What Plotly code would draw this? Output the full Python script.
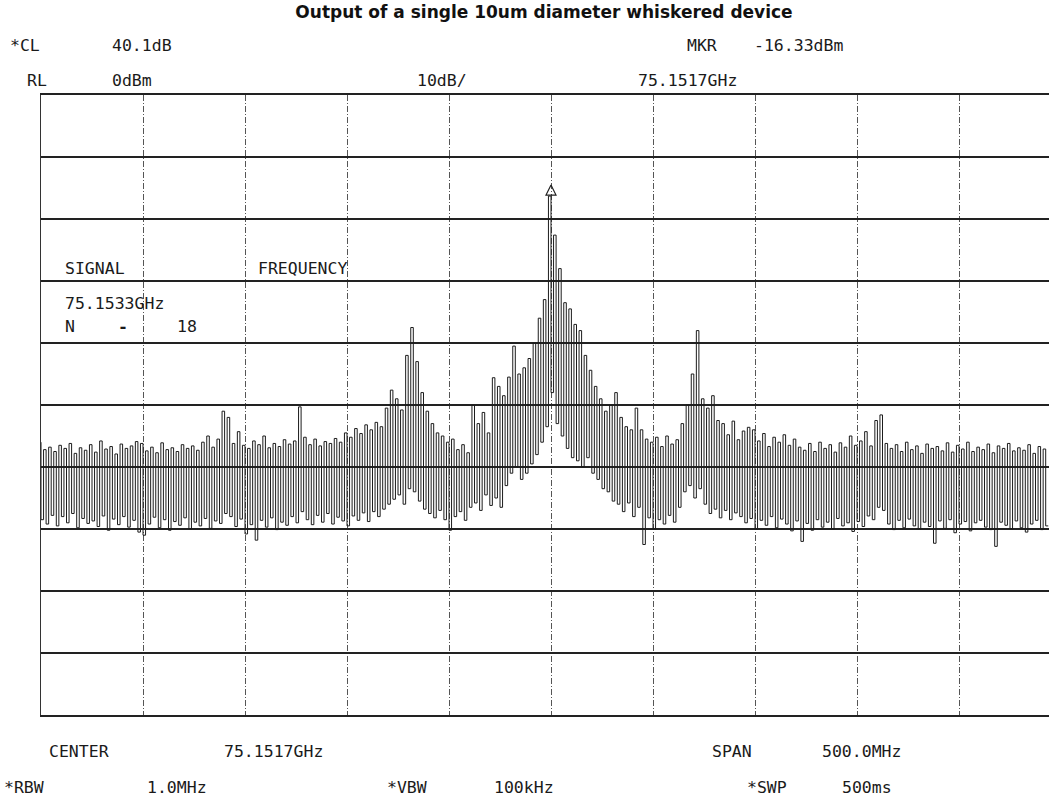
import plotly.graph_objects as go

# ---- instrument settings ----
center_ghz = 75.1517
span_mhz = 500.0
ref_level_dbm = 0.0
db_per_div = 10.0
n_div = 10
step_mhz = 2.5          # spacing of the trace strokes
marker_ghz = 75.1517
marker_dbm = -16.33

# ---- trace: upper and lower end of every stroke, in dBm ----
tops = [
    -56.0, -57.2, -56.8, -57.5, -56.5, -57.0, -56.2, -57.8, -56.9, -57.3,
    -56.4, -57.6, -55.8, -57.1, -56.7, -57.9, -56.3, -57.0, -56.6, -55.9,
    -56.2, -57.4, -56.8, -57.7, -56.1, -57.2, -56.9, -57.5, -56.4, -57.0,
    -56.6, -57.3, -56.0, -55.0, -56.8, -55.5, -51.0, -52.0, -56.2, -54.3,
    -56.5, -57.0, -55.8, -56.4, -55.0, -56.9, -56.2, -56.7, -55.6, -56.3,
    -55.8, -50.3, -55.2, -56.4, -55.5, -56.6, -55.9, -56.2, -55.4, -56.0,
    -54.5, -55.2, -53.8, -54.6, -53.2, -54.0, -52.8, -53.5, -50.5, -47.6,
    -49.0, -50.8, -42.0, -37.5, -43.0, -48.0, -51.0, -53.0, -54.5, -55.0,
    -56.0, -55.5, -57.2, -56.4, -57.7, -50.0, -53.0, -51.2, -54.5, -45.6,
    -47.0, -48.5, -45.5, -40.5, -45.0, -44.0, -42.5, -40.0, -36.0, -33.0,
    -16.3, -22.6, -28.0, -33.5, -34.5, -37.0, -38.0, -42.0, -44.4, -47.0,
    -49.0, -51.0, -50.0, -48.0, -52.0, -53.5, -54.0, -50.5, -54.0, -55.5,
    -56.0, -55.2, -56.7, -55.0, -56.3, -55.6, -53.0, -50.0, -45.0, -38.0,
    -49.0, -50.5, -48.5, -52.5, -53.0, -54.8, -52.6, -55.6, -54.2, -53.6,
    -54.0, -55.8, -54.6, -56.7, -55.2, -56.0, -54.8, -56.5, -55.5, -56.8,
    -57.3, -56.2, -57.5, -56.0, -57.0, -56.4, -57.6, -56.1, -56.8, -55.0,
    -56.5, -55.8, -54.3, -56.6, -52.5, -51.6, -56.2, -57.0, -56.4, -57.5,
    -56.0, -57.2, -56.6, -57.8, -56.3, -57.0, -56.7, -57.4, -56.1, -57.6,
    -56.5, -57.1, -56.0, -57.5, -56.8, -57.2, -56.3, -57.7, -56.6, -57.0,
    -56.2, -57.4, -56.9, -57.3, -56.4, -57.8, -56.7, -57.1,
]
bottoms = [
    -68.5, -69.2, -67.8, -69.5, -68.0, -69.0, -67.5, -69.8, -68.3, -69.1,
    -68.7, -69.6, -67.9, -70.2, -68.4, -69.3, -68.0, -69.7, -68.6, -70.5,
    -71.0, -69.2, -68.1, -69.8, -68.5, -70.2, -68.8, -69.4, -68.2, -70.0,
    -68.9, -69.5, -68.3, -69.9, -68.7, -69.1, -67.5, -68.0, -69.6, -68.4,
    -70.8, -69.3, -71.8, -68.6, -69.7, -68.2, -70.1, -68.9, -69.4, -68.0,
    -69.0, -67.2, -68.5, -69.3, -67.8, -68.9, -67.5, -69.2, -68.1, -68.7,
    -69.5, -67.9, -68.6, -67.4, -68.8, -67.2, -68.0, -66.8, -66.0, -65.2,
    -64.5, -66.0, -63.5, -64.0, -65.5, -66.8, -67.5, -68.2, -67.0, -68.5,
    -70.2, -68.0, -67.2, -68.6, -66.5, -65.8, -67.0, -64.5, -66.2, -65.0,
    -66.5, -63.0, -61.0, -60.0, -62.0, -61.0, -59.5, -58.0, -56.0, -53.5,
    -48.0, -53.0, -55.0, -57.0, -58.5, -59.0, -60.0, -58.5, -61.0, -62.0,
    -63.5, -64.0, -65.5, -66.0, -67.2, -65.8, -68.0, -66.5, -72.5, -68.2,
    -70.0, -68.5, -69.2, -67.8, -68.9, -66.5, -64.0, -63.0, -65.0, -63.5,
    -66.0, -67.5, -66.8, -68.2, -67.0, -68.5, -67.4, -68.0, -69.0, -68.3,
    -70.0, -68.6, -69.4, -68.0, -69.8, -68.4, -69.2, -70.3, -68.7, -72.0,
    -69.1, -70.2, -68.5, -69.7, -68.9, -70.0, -68.3, -69.5, -69.0, -70.4,
    -68.8, -69.6, -67.9, -68.5, -66.5, -67.0, -69.2, -70.1, -68.6, -69.8,
    -68.4, -69.5, -70.0, -68.9, -69.6, -72.3, -68.7, -69.9, -68.5, -70.6,
    -69.2, -68.8, -70.3, -69.0, -68.6, -69.7, -70.1, -72.8, -68.9, -69.4,
    -70.0, -68.7, -69.8, -70.5, -69.2, -68.6, -70.1, -69.5,
]

# ---- screen text ----
title_text = "Output of a single 10um diameter whiskered device"
screen_text = [
    ("*CL", 8, 45), ("40.1dB", 110, 45), ("MKR", 685, 45), ("-16.33dBm", 752, 45),
    ("RL", 25, 80), ("0dBm", 110, 80), ("10dB/", 415, 80), ("75.1517GHz", 636, 80),
    ("SIGNAL", 63, 268), ("FREQUENCY", 256, 268), ("75.1533GHz", 63, 303),
    ("N", 63, 326), ("<b>-</b>", 116, 326), ("18", 175, 326),
    ("CENTER", 47, 752), ("75.1517GHz", 222, 752), ("SPAN", 710, 752), ("500.0MHz", 820, 752),
    ("*RBW", 2, 787), ("1.0MHz", 145, 787), ("*VBW", 385, 787), ("100kHz", 492, 787),
    ("*SWP", 745, 787), ("500ms", 840, 787),
]

# ---- layout geometry ----
W, H = 1049, 798
ML, MT, MB = 41, 95, 83
plot_w = W - ML
plot_h = H - MT - MB
div_px = 102.0
visible_span_mhz = span_mhz * plot_w / (div_px * n_div)
x0 = center_ghz - span_mhz / 2 / 1000
x1 = x0 + visible_span_mhz / 1000

# the trace is drawn as a square wave: down at each stroke, up to the next top
freqs = [center_ghz + (-span_mhz / 2 + step_mhz * i) / 1000 for i in range(len(tops))]
xs, ys = [], []
for f, t, b in zip(freqs, tops, bottoms):
    xs += [f, f + step_mhz / 2 / 1000]
    ys += [t, b]

fig = go.Figure()
fig.add_trace(go.Scatter(x=xs, y=ys, mode="lines",
                         line=dict(color="#1c1c1c", width=1, shape="vh"),
                         hoverinfo="skip", showlegend=False))
fig.add_trace(go.Scatter(x=[marker_ghz], y=[marker_dbm + 1.8], mode="markers",
                         marker=dict(symbol="arrow-up-open", size=10,
                                     color="#222", line=dict(width=1.2, color="#222")),
                         hoverinfo="skip", showlegend=False))

anns = []
for txt, px, py in screen_text:
    anns.append(dict(text=txt, xref="paper", yref="paper",
                     x=(px - ML) / plot_w, y=(H - MB - py) / plot_h,
                     xanchor="left", yanchor="middle", showarrow=False,
                     font=dict(family="DejaVu Sans Mono", size=16.5, color="#1a1a1a")))

fig.update_layout(
    width=W, height=H,
    margin=dict(l=ML, r=0, t=MT, b=MB, pad=0),
    paper_bgcolor="white", plot_bgcolor="white",
    title=dict(text="<b>" + title_text + "</b>", x=544 / W, xanchor="center",
               y=1 - 12 / H, yanchor="middle",
               font=dict(family="DejaVu Sans", size=17, color="#111")),
    annotations=anns,
    xaxis=dict(range=[x0, x1], tick0=x0, dtick=span_mhz / n_div / 1000,
               showticklabels=False, ticks="", zeroline=False,
               showgrid=True, gridcolor="#555", gridwidth=1,
               griddash="6px,2px,1px,2px",
               showline=True, linecolor="#222", linewidth=2, mirror=True),
    yaxis=dict(range=[ref_level_dbm - db_per_div * n_div, ref_level_dbm],
               tick0=ref_level_dbm, dtick=db_per_div,
               showticklabels=False, ticks="", zeroline=False,
               showgrid=True, gridcolor="#222", gridwidth=1.6,
               showline=True, linecolor="#333", linewidth=1, mirror=False),
)

fig.write_html("out.html", config={"displayModeBar": False},
               post_script="document.body.style.margin='0';document.body.style.overflow='hidden';")
